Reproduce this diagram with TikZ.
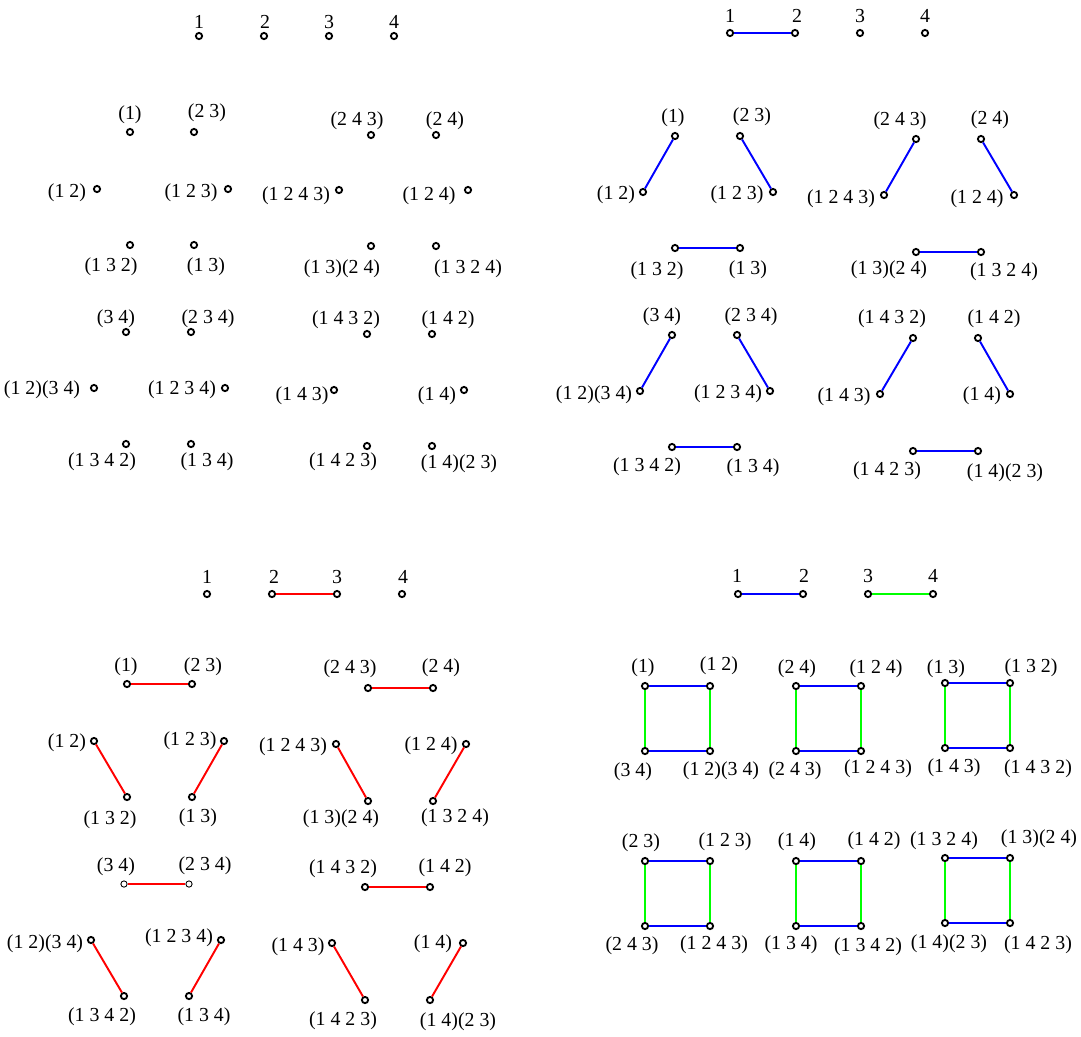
\documentclass[tikz,border=0pt]{standalone}
\usepackage{fontspec}
\setmainfont{Liberation Serif}
\usepackage{xcolor}
\definecolor{pmblue}{RGB}{0,0,255}
\definecolor{pmred}{RGB}{255,0,0}
\definecolor{pmgreen}{RGB}{0,255,0}

\begin{document}
\begin{tikzpicture}[
  x=0.02cm, y=-0.02cm,
  font=\fontsize{11.3}{13}\selectfont,
  vx/.style={circle, draw=black, line width=1.05pt, inner sep=0pt, minimum size=0.125cm},
  vxthin/.style={vx, line width=0.5pt},
  lab/.style={inner sep=0pt},
  eblue/.style={pmblue, line width=1.1pt},
  ered/.style={pmred, line width=1.1pt},
  egreen/.style={pmgreen, line width=1.1pt}
]
\useasboundingbox (0,0) rectangle (1081,1036);

\node[vx] (at1) at (199,36) {}; \node[lab] (at1l) at (199,22) {1};
\node[vx] (at2) at (264,36) {}; \node[lab] (at2l) at (265,22) {2};
\node[vx] (at3) at (329,36) {}; \node[lab] (at3l) at (329,22) {3};
\node[vx] (at4) at (394,36) {}; \node[lab] (at4l) at (394,22) {4};

\node[vx] (a1) at (130,132) {}; \node[lab] (a1l) at (130,115) {(1)};
\node[vx] (a2) at (194,132) {}; \node[lab] (a2l) at (207,113) {(2 3)};
\node[vx] (a3) at (97,189) {}; \node[lab] (a3l) at (67,193) {(1 2)};
\node[vx] (a4) at (228,189) {}; \node[lab] (a4l) at (191,193) {(1 2 3)};
\node[vx] (a5) at (130,245) {}; \node[lab] (a5l) at (111,267) {(1 3 2)};
\node[vx] (a6) at (194,245) {}; \node[lab] (a6l) at (206,267) {(1 3)};
\node[vx] (a7) at (371,135) {}; \node[lab] (a7l) at (357,121) {(2 4 3)};
\node[vx] (a8) at (436,135) {}; \node[lab] (a8l) at (445,121) {(2 4)};
\node[vx] (a9) at (339,190) {}; \node[lab] (a9l) at (296,196) {(1 2 4 3)};
\node[vx] (a10) at (468,190) {}; \node[lab] (a10l) at (429,196) {(1 2 4)};
\node[vx] (a11) at (371,246) {}; \node[lab] (a11l) at (342,269) {(1 3)(2 4)};
\node[vx] (a12) at (436,246) {}; \node[lab] (a12l) at (468,269) {(1 3 2 4)};
\node[vx] (a13) at (126,332) {}; \node[lab] (a13l) at (116,319) {(3 4)};
\node[vx] (a14) at (191,332) {}; \node[lab] (a14l) at (208,319) {(2 3 4)};
\node[vx] (a15) at (94,388) {}; \node[lab] (a15l) at (42,390) {(1 2)(3 4)};
\node[vx] (a16) at (225,388) {}; \node[lab] (a16l) at (182,390) {(1 2 3 4)};
\node[vx] (a17) at (126,444) {}; \node[lab] (a17l) at (102,462) {(1 3 4 2)};
\node[vx] (a18) at (191,444) {}; \node[lab] (a18l) at (207,462) {(1 3 4)};
\node[vx] (a19) at (367,334) {}; \node[lab] (a19l) at (346,320) {(1 4 3 2)};
\node[vx] (a20) at (432,334) {}; \node[lab] (a20l) at (448,320) {(1 4 2)};
\node[vx] (a21) at (334,390) {}; \node[lab] (a21l) at (302,396) {(1 4 3)};
\node[vx] (a22) at (464,390) {}; \node[lab] (a22l) at (437,396) {(1 4)};
\node[vx] (a23) at (367,446) {}; \node[lab] (a23l) at (343,462) {(1 4 2 3)};
\node[vx] (a24) at (432,446) {}; \node[lab] (a24l) at (459,464) {(1 4)(2 3)};

\node[vx] (bt1) at (730,33) {}; \node[lab] (bt1l) at (730,16) {1};
\node[vx] (bt2) at (795,33) {}; \node[lab] (bt2l) at (797,16) {2};
\node[vx] (bt3) at (860,33) {}; \node[lab] (bt3l) at (860,16) {3};
\node[vx] (bt4) at (925,33) {}; \node[lab] (bt4l) at (925,16) {4};

\node[vx] (b1) at (675,136) {}; \node[lab] (b1l) at (673,118) {(1)};
\node[vx] (b2) at (740,136) {}; \node[lab] (b2l) at (752,117) {(2 3)};
\node[vx] (b3) at (643,192) {}; \node[lab] (b3l) at (616,195) {(1 2)};
\node[vx] (b4) at (773,192) {}; \node[lab] (b4l) at (737,195) {(1 2 3)};
\node[vx] (b5) at (675,248) {}; \node[lab] (b5l) at (657,271) {(1 3 2)};
\node[vx] (b6) at (740,248) {}; \node[lab] (b6l) at (748,270) {(1 3)};
\node[vx] (b7) at (916,139) {}; \node[lab] (b7l) at (900,121) {(2 4 3)};
\node[vx] (b8) at (981,139) {}; \node[lab] (b8l) at (990,120) {(2 4)};
\node[vx] (b9) at (884,195) {}; \node[lab] (b9l) at (841,199) {(1 2 4 3)};
\node[vx] (b10) at (1014,195) {}; \node[lab] (b10l) at (977,199) {(1 2 4)};
\node[vx] (b11) at (916,252) {}; \node[lab] (b11l) at (889,270) {(1 3)(2 4)};
\node[vx] (b12) at (981,252) {}; \node[lab] (b12l) at (1004,272) {(1 3 2 4)};
\node[vx] (b13) at (672,335) {}; \node[lab] (b13l) at (662,317) {(3 4)};
\node[vx] (b14) at (737,335) {}; \node[lab] (b14l) at (751,317) {(2 3 4)};
\node[vx] (b15) at (640,391) {}; \node[lab] (b15l) at (594,395) {(1 2)(3 4)};
\node[vx] (b16) at (770,391) {}; \node[lab] (b16l) at (728,394) {(1 2 3 4)};
\node[vx] (b17) at (672,447) {}; \node[lab] (b17l) at (647,467) {(1 3 4 2)};
\node[vx] (b18) at (737,447) {}; \node[lab] (b18l) at (753,468) {(1 3 4)};
\node[vx] (b19) at (913,338) {}; \node[lab] (b19l) at (892,319) {(1 4 3 2)};
\node[vx] (b20) at (978,338) {}; \node[lab] (b20l) at (994,319) {(1 4 2)};
\node[vx] (b21) at (880,394) {}; \node[lab] (b21l) at (844,397) {(1 4 3)};
\node[vx] (b22) at (1010,394) {}; \node[lab] (b22l) at (982,396) {(1 4)};
\node[vx] (b23) at (913,451) {}; \node[lab] (b23l) at (887,471) {(1 4 2 3)};
\node[vx] (b24) at (978,451) {}; \node[lab] (b24l) at (1005,473) {(1 4)(2 3)};

\node[vx] (ct1) at (207,594) {}; \node[lab] (ct1l) at (207,577) {1};
\node[vx] (ct2) at (272,594) {}; \node[lab] (ct2l) at (274,577) {2};
\node[vx] (ct3) at (337,594) {}; \node[lab] (ct3l) at (337,577) {3};
\node[vx] (ct4) at (402,594) {}; \node[lab] (ct4l) at (403,577) {4};

\node[vx] (c1) at (127,684) {}; \node[lab] (c1l) at (126,667) {(1)};
\node[vx] (c2) at (192,684) {}; \node[lab] (c2l) at (203,667) {(2 3)};
\node[vx] (c3) at (94,741) {}; \node[lab] (c3l) at (67,743) {(1 2)};
\node[vx] (c4) at (224,741) {}; \node[lab] (c4l) at (190,741) {(1 2 3)};
\node[vx] (c5) at (127,797) {}; \node[lab] (c5l) at (110,820) {(1 3 2)};
\node[vx] (c6) at (192,797) {}; \node[lab] (c6l) at (198,818) {(1 3)};
\node[vx] (c7) at (368,688) {}; \node[lab] (c7l) at (350,669) {(2 4 3)};
\node[vx] (c8) at (433,688) {}; \node[lab] (c8l) at (441,668) {(2 4)};
\node[vx] (c9) at (336,744) {}; \node[lab] (c9l) at (293,747) {(1 2 4 3)};
\node[vx] (c10) at (466,744) {}; \node[lab] (c10l) at (431,746) {(1 2 4)};
\node[vx] (c11) at (368,801) {}; \node[lab] (c11l) at (341,819) {(1 3)(2 4)};
\node[vx] (c12) at (433,801) {}; \node[lab] (c12l) at (455,818) {(1 3 2 4)};
\node[vxthin] (c13) at (124,884) {}; \node[lab] (c13l) at (116,867) {(3 4)};
\node[vxthin] (c14) at (189,884) {}; \node[lab] (c14l) at (205,866) {(2 3 4)};
\node[vx] (c15) at (91,940) {}; \node[lab] (c15l) at (45,944) {(1 2)(3 4)};
\node[vx] (c16) at (221,940) {}; \node[lab] (c16l) at (179,938) {(1 2 3 4)};
\node[vx] (c17) at (124,996) {}; \node[lab] (c17l) at (102,1017) {(1 3 4 2)};
\node[vx] (c18) at (189,996) {}; \node[lab] (c18l) at (204,1017) {(1 3 4)};
\node[vx] (c19) at (365,887) {}; \node[lab] (c19l) at (343,869) {(1 4 3 2)};
\node[vx] (c20) at (430,887) {}; \node[lab] (c20l) at (445,868) {(1 4 2)};
\node[vx] (c21) at (332,943) {}; \node[lab] (c21l) at (298,947) {(1 4 3)};
\node[vx] (c22) at (463,943) {}; \node[lab] (c22l) at (433,944) {(1 4)};
\node[vx] (c23) at (365,1000) {}; \node[lab] (c23l) at (343,1021) {(1 4 2 3)};
\node[vx] (c24) at (430,1000) {}; \node[lab] (c24l) at (458,1022) {(1 4)(2 3)};

\node[vx] (dt1) at (738,594) {}; \node[lab] (dt1l) at (737,576) {1};
\node[vx] (dt2) at (803,594) {}; \node[lab] (dt2l) at (804,576) {2};
\node[vx] (dt3) at (868,594) {}; \node[lab] (dt3l) at (868,576) {3};
\node[vx] (dt4) at (933,594) {}; \node[lab] (dt4l) at (933,576) {4};

\node[vx] (d1) at (645,686) {}; \node[lab] (d1l) at (643,668) {(1)};
\node[vx] (d2) at (710,686) {}; \node[lab] (d2l) at (719,666) {(1 2)};
\node[vx] (d3) at (645,751) {}; \node[lab] (d3l) at (633,772) {(3 4)};
\node[vx] (d4) at (710,751) {}; \node[lab] (d4l) at (721,771) {(1 2)(3 4)};
\node[vx] (d5) at (796,686) {}; \node[lab] (d5l) at (797,669) {(2 4)};
\node[vx] (d6) at (861,686) {}; \node[lab] (d6l) at (876,669) {(1 2 4)};
\node[vx] (d7) at (796,751) {}; \node[lab] (d7l) at (795,771) {(2 4 3)};
\node[vx] (d8) at (861,751) {}; \node[lab] (d8l) at (878,769) {(1 2 4 3)};
\node[vx] (d9) at (945,683) {}; \node[lab] (d9l) at (946,669) {(1 3)};
\node[vx] (d10) at (1010,683) {}; \node[lab] (d10l) at (1031,668) {(1 3 2)};
\node[vx] (d11) at (945,748) {}; \node[lab] (d11l) at (954,768) {(1 4 3)};
\node[vx] (d12) at (1010,748) {}; \node[lab] (d12l) at (1038,769) {(1 4 3 2)};
\node[vx] (d13) at (645,861) {}; \node[lab] (d13l) at (641,843) {(2 3)};
\node[vx] (d14) at (710,861) {}; \node[lab] (d14l) at (725,842) {(1 2 3)};
\node[vx] (d15) at (645,926) {}; \node[lab] (d15l) at (632,946) {(2 4 3)};
\node[vx] (d16) at (710,926) {}; \node[lab] (d16l) at (714,945) {(1 2 4 3)};
\node[vx] (d17) at (796,861) {}; \node[lab] (d17l) at (797,842) {(1 4)};
\node[vx] (d18) at (861,861) {}; \node[lab] (d18l) at (874,841) {(1 4 2)};
\node[vx] (d19) at (796,926) {}; \node[lab] (d19l) at (791,945) {(1 3 4)};
\node[vx] (d20) at (861,926) {}; \node[lab] (d20l) at (868,947) {(1 3 4 2)};
\node[vx] (d21) at (945,858) {}; \node[lab] (d21l) at (944,841) {(1 3 2 4)};
\node[vx] (d22) at (1010,858) {}; \node[lab] (d22l) at (1039,839) {(1 3)(2 4)};
\node[vx] (d23) at (945,923) {}; \node[lab] (d23l) at (949,944) {(1 4)(2 3)};
\node[vx] (d24) at (1010,923) {}; \node[lab] (d24l) at (1038,945) {(1 4 2 3)};

\draw[eblue] (bt1) -- (bt2);
\draw[eblue] (b1) -- (b3);
\draw[eblue] (b2) -- (b4);
\draw[eblue] (b5) -- (b6);
\draw[eblue] (b7) -- (b9);
\draw[eblue] (b8) -- (b10);
\draw[eblue] (b11) -- (b12);
\draw[eblue] (b13) -- (b15);
\draw[eblue] (b14) -- (b16);
\draw[eblue] (b17) -- (b18);
\draw[eblue] (b19) -- (b21);
\draw[eblue] (b20) -- (b22);
\draw[eblue] (b23) -- (b24);

\draw[ered] (ct2) -- (ct3);
\draw[ered] (c1) -- (c2);
\draw[ered] (c3) -- (c5);
\draw[ered] (c4) -- (c6);
\draw[ered] (c7) -- (c8);
\draw[ered] (c9) -- (c11);
\draw[ered] (c10) -- (c12);
\draw[ered] (c13) -- (c14);
\draw[ered] (c15) -- (c17);
\draw[ered] (c16) -- (c18);
\draw[ered] (c19) -- (c20);
\draw[ered] (c21) -- (c23);
\draw[ered] (c22) -- (c24);

\draw[eblue] (dt1) -- (dt2);
\draw[egreen] (dt3) -- (dt4);
\draw[eblue] (d1) -- (d2);
\draw[eblue] (d3) -- (d4);
\draw[egreen] (d1) -- (d3);
\draw[egreen] (d2) -- (d4);
\draw[eblue] (d5) -- (d6);
\draw[eblue] (d7) -- (d8);
\draw[egreen] (d5) -- (d7);
\draw[egreen] (d6) -- (d8);
\draw[eblue] (d9) -- (d10);
\draw[eblue] (d11) -- (d12);
\draw[egreen] (d9) -- (d11);
\draw[egreen] (d10) -- (d12);
\draw[eblue] (d13) -- (d14);
\draw[eblue] (d15) -- (d16);
\draw[egreen] (d13) -- (d15);
\draw[egreen] (d14) -- (d16);
\draw[eblue] (d17) -- (d18);
\draw[eblue] (d19) -- (d20);
\draw[egreen] (d17) -- (d19);
\draw[egreen] (d18) -- (d20);
\draw[eblue] (d21) -- (d22);
\draw[eblue] (d23) -- (d24);
\draw[egreen] (d21) -- (d23);
\draw[egreen] (d22) -- (d24);
\end{tikzpicture}
\end{document}
